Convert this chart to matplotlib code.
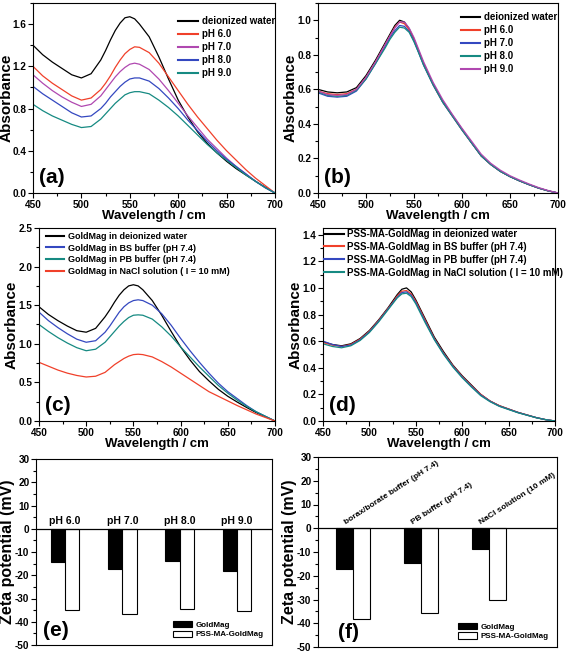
import numpy as np
import matplotlib
matplotlib.use("Agg")
import matplotlib.pyplot as plt
from matplotlib.ticker import MultipleLocator

plt.rcParams['font.family'] = ['Liberation Sans', 'DejaVu Sans']
plt.rcParams['font.weight'] = 'bold'
plt.rcParams['axes.labelweight'] = 'bold'
plt.rcParams['axes.unicode_minus'] = False

# wavelength grid (nm) shared by all spectra
wl = [450, 460, 470, 480, 490, 500, 510, 520, 525, 530, 535, 540, 545, 550, 555,
      560, 570, 580, 590, 600, 610, 620, 630, 640, 650, 660, 670, 680, 690, 700]

# (a) GoldMag at different pH
a_water = [1.40, 1.31, 1.24, 1.18, 1.12, 1.09, 1.13, 1.26, 1.35, 1.45, 1.54, 1.61, 1.66, 1.67, 1.65,
           1.60, 1.48, 1.29, 1.08, 0.88, 0.72, 0.58, 0.47, 0.38, 0.30, 0.23, 0.17, 0.11, 0.055, 0.0]
a_ph6 = [1.20, 1.11, 1.04, 0.98, 0.92, 0.88, 0.90, 0.98, 1.04, 1.11, 1.19, 1.26, 1.32, 1.36, 1.385,
         1.38, 1.33, 1.23, 1.10, 0.97, 0.84, 0.72, 0.61, 0.50, 0.40, 0.31, 0.22, 0.14, 0.07, 0.0]
a_ph7 = [1.12, 1.04, 0.97, 0.91, 0.86, 0.82, 0.84, 0.92, 0.98, 1.04, 1.10, 1.15, 1.19, 1.22, 1.23,
         1.22, 1.17, 1.08, 0.97, 0.85, 0.73, 0.62, 0.51, 0.42, 0.33, 0.25, 0.18, 0.11, 0.05, 0.0]
a_ph8 = [1.01, 0.94, 0.88, 0.82, 0.76, 0.72, 0.73, 0.80, 0.85, 0.91, 0.96, 1.01, 1.05, 1.08, 1.09,
         1.09, 1.06, 0.99, 0.90, 0.80, 0.69, 0.59, 0.49, 0.40, 0.32, 0.25, 0.18, 0.11, 0.05, 0.0]
a_ph9 = [0.84, 0.78, 0.73, 0.69, 0.65, 0.62, 0.63, 0.70, 0.75, 0.80, 0.85, 0.89, 0.93, 0.95, 0.96,
         0.96, 0.94, 0.88, 0.81, 0.73, 0.64, 0.55, 0.46, 0.38, 0.31, 0.24, 0.17, 0.11, 0.05, 0.0]

# (b) PSS-MA-GoldMag at different pH
b_water = [0.60, 0.585, 0.58, 0.585, 0.61, 0.68, 0.77, 0.87, 0.92, 0.97, 1.00, 0.99, 0.95, 0.89, 0.82,
           0.75, 0.63, 0.53, 0.45, 0.37, 0.29, 0.215, 0.165, 0.125, 0.095, 0.07, 0.048, 0.028, 0.012, 0.0]
b_ph6 = [0.59, 0.575, 0.57, 0.575, 0.60, 0.67, 0.76, 0.86, 0.91, 0.96, 0.99, 0.98, 0.945, 0.885, 0.815,
         0.745, 0.625, 0.525, 0.445, 0.365, 0.29, 0.215, 0.165, 0.125, 0.095, 0.07, 0.048, 0.028, 0.012, 0.0]
b_ph7 = [0.58, 0.56, 0.555, 0.56, 0.59, 0.66, 0.75, 0.85, 0.90, 0.94, 0.97, 0.965, 0.935, 0.88, 0.81,
         0.74, 0.625, 0.525, 0.445, 0.365, 0.29, 0.215, 0.165, 0.125, 0.095, 0.07, 0.048, 0.028, 0.012, 0.0]
b_ph8 = [0.585, 0.565, 0.56, 0.565, 0.595, 0.66, 0.75, 0.84, 0.89, 0.93, 0.96, 0.955, 0.93, 0.875, 0.81,
         0.74, 0.625, 0.525, 0.445, 0.365, 0.29, 0.215, 0.165, 0.125, 0.095, 0.07, 0.048, 0.028, 0.012, 0.0]
b_ph9 = [0.59, 0.57, 0.565, 0.57, 0.60, 0.67, 0.76, 0.86, 0.91, 0.955, 0.99, 0.99, 0.955, 0.90, 0.83,
         0.76, 0.64, 0.54, 0.455, 0.375, 0.30, 0.225, 0.172, 0.132, 0.10, 0.075, 0.052, 0.031, 0.014, 0.0]

# (c) GoldMag in different media
c_water = [1.48, 1.38, 1.30, 1.23, 1.17, 1.15, 1.20, 1.35, 1.44, 1.54, 1.63, 1.70, 1.75, 1.765, 1.75,
           1.70, 1.56, 1.37, 1.16, 0.96, 0.79, 0.64, 0.52, 0.41, 0.32, 0.245, 0.175, 0.11, 0.055, 0.0]
c_bs = [1.41, 1.30, 1.21, 1.13, 1.06, 1.02, 1.04, 1.15, 1.23, 1.32, 1.41, 1.48, 1.53, 1.56, 1.57,
        1.56, 1.50, 1.39, 1.24, 1.07, 0.91, 0.76, 0.62, 0.49, 0.38, 0.29, 0.20, 0.12, 0.06, 0.0]
c_pb = [1.25, 1.16, 1.08, 1.01, 0.95, 0.91, 0.93, 1.02, 1.09, 1.16, 1.23, 1.29, 1.34, 1.37, 1.375,
        1.37, 1.32, 1.22, 1.10, 0.96, 0.83, 0.70, 0.58, 0.46, 0.36, 0.27, 0.19, 0.12, 0.06, 0.0]
c_nacl = [0.76, 0.71, 0.66, 0.62, 0.59, 0.57, 0.58, 0.63, 0.68, 0.73, 0.77, 0.81, 0.84, 0.86, 0.865,
          0.86, 0.83, 0.77, 0.70, 0.62, 0.54, 0.46, 0.38, 0.32, 0.26, 0.20, 0.145, 0.09, 0.045, 0.0]

# (d) PSS-MA-GoldMag in different media
d_water = [0.595, 0.575, 0.565, 0.58, 0.62, 0.68, 0.76, 0.85, 0.90, 0.95, 0.99, 1.00, 0.97, 0.91, 0.84,
           0.77, 0.63, 0.52, 0.42, 0.34, 0.27, 0.20, 0.15, 0.115, 0.09, 0.065, 0.045, 0.025, 0.01, 0.0]
d_bs = [0.59, 0.57, 0.56, 0.575, 0.615, 0.675, 0.755, 0.845, 0.89, 0.94, 0.975, 0.98, 0.955, 0.90, 0.83,
        0.76, 0.62, 0.51, 0.415, 0.335, 0.265, 0.20, 0.15, 0.115, 0.09, 0.065, 0.045, 0.025, 0.01, 0.0]
d_pb = [0.60, 0.575, 0.56, 0.57, 0.61, 0.67, 0.75, 0.84, 0.885, 0.93, 0.965, 0.97, 0.945, 0.89, 0.82,
        0.75, 0.615, 0.505, 0.41, 0.33, 0.26, 0.195, 0.148, 0.112, 0.088, 0.064, 0.044, 0.025, 0.01, 0.0]
d_nacl = [0.58, 0.56, 0.55, 0.565, 0.605, 0.665, 0.745, 0.835, 0.88, 0.925, 0.955, 0.96, 0.935, 0.88, 0.81,
          0.74, 0.61, 0.50, 0.405, 0.325, 0.255, 0.19, 0.145, 0.11, 0.086, 0.062, 0.043, 0.024, 0.01, 0.0]

# (e) zeta potential vs pH
e_labels = ['pH 6.0', 'pH 7.0', 'pH 8.0', 'pH 9.0']
e_goldmag = [-14.4, -17.2, -13.9, -18.2]
e_pss = [-35.1, -36.6, -34.6, -35.2]

# (f) zeta potential in media
f_labels = ['borax/borate buffer (pH 7.4)', 'PB buffer (pH 7.4)', 'NaCl solution (10 mM)']
f_goldmag = [-17.0, -14.6, -8.8]
f_pss = [-38.0, -35.8, -30.2]

BLACK = '#000000'
RED = '#f0402a'
MAG = '#b048b0'
BLUE = '#3448c0'
TEAL = '#168a82'

W, H = 567, 654
fig = plt.figure(figsize=(W / 100, H / 100), dpi=100)


def add_ax(left, top, right, bottom):
    return fig.add_axes([left / W, 1 - bottom / H, (right - left) / W, (bottom - top) / H])


def style(ax):
    for s in ax.spines.values():
        s.set_linewidth(0.8)
    ax.tick_params(which='both', direction='out', width=0.8, labelsize=7.2, pad=1.2,
                   top=False, right=False)
    ax.tick_params(which='major', length=3.5)
    ax.tick_params(which='minor', length=2)


def spectrum(ax, series, ymax, ymaj, leg_pos, leg_fs, tag, ylab_x):
    for y, c, lab in series:
        ax.plot(wl, y, color=c, lw=0.9, label=lab)
    ax.set_xlim(450, 700)
    ax.set_ylim(0, ymax)
    ax.xaxis.set_major_locator(MultipleLocator(50))
    ax.xaxis.set_minor_locator(MultipleLocator(25))
    ax.yaxis.set_major_locator(MultipleLocator(ymaj))
    ax.yaxis.set_minor_locator(MultipleLocator(ymaj / 2))
    ax.yaxis.set_major_formatter('{x:.1f}')
    style(ax)
    ax.set_xlabel('Wavelength / cm', fontsize=9.5, labelpad=0)
    ax.set_ylabel('Absorbance', fontsize=11)
    ax.yaxis.set_label_coords(ylab_x, 0.5)
    leg = ax.legend(loc='upper left', bbox_to_anchor=leg_pos, frameon=False, fontsize=leg_fs,
                    borderpad=0, borderaxespad=0, handlelength=2.0, handletextpad=0.4,
                    labelspacing=0.3)
    for ln in leg.get_lines():
        ln.set_linewidth(1.5)
    ax.text(0.025, 0.03, tag, transform=ax.transAxes, fontsize=15, fontweight='bold',
            ha='left', va='bottom')


ax_a = add_ax(33, 3, 275, 193)
spectrum(ax_a, [(a_water, BLACK, 'deionized water'), (a_ph6, RED, 'pH 6.0'),
                (a_ph7, MAG, 'pH 7.0'), (a_ph8, BLUE, 'pH 8.0'), (a_ph9, TEAL, 'pH 9.0')],
         1.8, 0.4, (0.6, 0.93), 7, '(a)', -0.081)

ax_b = add_ax(318, 3, 558, 193)
spectrum(ax_b, [(b_water, BLACK, 'deionized water'), (b_ph6, RED, 'pH 6.0'),
                (b_ph7, BLUE, 'pH 7.0'), (b_ph8, TEAL, 'pH 8.0'), (b_ph9, MAG, 'pH 9.0')],
         1.1, 0.2, (0.595, 0.95), 7, '(b)', -0.083)

ax_c = add_ax(39, 228, 275, 421)
spectrum(ax_c, [(c_water, BLACK, 'GoldMag in deionized water'),
                (c_bs, BLUE, 'GoldMag in BS buffer (pH 7.4)'),
                (c_pb, TEAL, 'GoldMag in PB buffer (pH 7.4)'),
                (c_nacl, RED, 'GoldMag in NaCl solution ( I = 10 mM)')],
         2.5, 0.5, (0.03, 0.98), 6.5, '(c)', -0.086)
ax_c.yaxis.set_minor_locator(MultipleLocator(0.25))

ax_d = add_ax(323, 228, 555, 421)
spectrum(ax_d, [(d_water, BLACK, 'PSS-MA-GoldMag in deionized water'),
                (d_bs, RED, 'PSS-MA-GoldMag in BS buffer (pH 7.4)'),
                (d_pb, BLUE, 'PSS-MA-GoldMag in PB buffer (pH 7.4)'),
                (d_nacl, TEAL, 'PSS-MA-GoldMag in NaCl solution ( I = 10 mM)')],
         1.45, 0.2, (0.005, 0.995), 7, '(d)', -0.087)


def zeta(ax, labels, g, p, xlim, rot, tag, tag_x, leg_x, ylab_x):
    x = np.arange(1, len(labels) + 1)
    w = 0.25
    ax.bar(x - w / 2, g, width=w, color='black', edgecolor='black', lw=0.8, label='GoldMag')
    ax.bar(x + w / 2, p, width=w, color='white', edgecolor='black', lw=0.8, label='PSS-MA-GoldMag')
    ax.axhline(0, color='black', lw=0.9)
    ax.set_xlim(*xlim)
    ax.set_ylim(-50, 30)
    ax.set_xticks([])
    ax.yaxis.set_major_locator(MultipleLocator(10))
    ax.yaxis.set_minor_locator(MultipleLocator(5))
    style(ax)
    ax.set_ylabel('Zeta potential (mV)', fontsize=11.5)
    ax.yaxis.set_label_coords(ylab_x, 0.5)
    for xi, lab in zip(x, labels):
        if rot:
            ax.text(xi - 0.1, 1.0, lab, rotation=33, rotation_mode='anchor', fontsize=6,
                    ha='left', va='bottom')
        else:
            ax.text(xi, 1.0, lab, fontsize=7.5, ha='center', va='bottom')
    ax.legend(loc='lower left', bbox_to_anchor=(leg_x, 0.035), frameon=False, fontsize=5.8,
              borderpad=0, borderaxespad=0, handlelength=2.4, handleheight=0.8,
              handletextpad=0.4, labelspacing=0.2)
    ax.text(tag_x, 0.025, tag, transform=ax.transAxes, fontsize=15, fontweight='bold',
            ha='left', va='bottom')


ax_e = add_ax(36, 459, 272, 645)
zeta(ax_e, e_labels, e_goldmag, e_pss, (0.494, 4.61), False, '(e)', 0.03, 0.58, -0.09)

ax_f = add_ax(318, 457, 557, 647)
zeta(ax_f, f_labels, f_goldmag, f_pss, (0.48, 4.0), True, '(f)', 0.084, 0.586, -0.089)

fig.savefig('out.png', dpi=100)
